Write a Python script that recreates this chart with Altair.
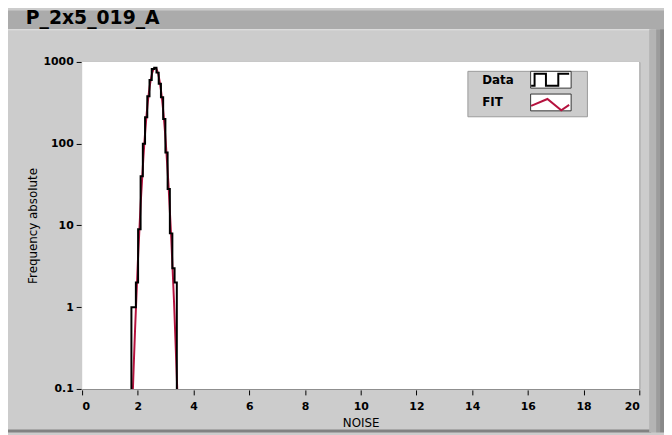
import altair as alt
import pandas as pd

# ---- data ----
# histogram (step) : left bin edges and counts (0 = empty bin)
edge_x = [1.70, 1.77, 1.85, 1.93, 2.01, 2.10, 2.18, 2.26, 2.34, 2.42, 2.50, 2.59,
          2.67, 2.75, 2.83, 2.91, 2.99, 3.07, 3.15, 3.24, 3.32, 3.40, 3.48]
counts = [0, 1, 1, 2, 9, 40, 100, 210, 380, 600, 820, 850,
          740, 540, 370, 200, 78, 28, 8, 3, 2, 0, 0]

# fitted curve
fit_x = [1.75, 1.80, 1.85, 1.90, 2.00, 2.10, 2.20, 2.30, 2.40, 2.50, 2.55, 2.60,
         2.65, 2.70, 2.80, 2.90, 3.00, 3.10, 3.20, 3.30, 3.40, 3.45, 3.50]
fit_y = [0.017, 0.058, 0.18, 0.52, 3.5, 18, 68, 197, 427, 692, 792, 845,
         839, 776, 535, 277, 108, 32, 7.0, 1.16, 0.14, 0.045, 0.013]

series = ["Data", "FIT"]
series_colors = ["#000000", "#B5123E"]
x_ticks = [0, 2, 4, 6, 8, 10, 12, 14, 16, 18, 20]
y_ticks = [0.1, 1, 10, 100, 1000]

hist_df = pd.DataFrame({"noise": edge_x, "count": counts})
fit_df = pd.DataFrame({"noise": fit_x, "freq": fit_y})
box_df = pd.DataFrame({"entry": series})
leg_df = pd.DataFrame({"series": series})
one = pd.DataFrame({"k": [0]})

FONT = "DejaVu Sans"
W, H = 564, 331

x_scale = alt.Scale(domain=[0, 20], nice=False, zero=False)
y_scale = alt.Scale(type="log", domain=[0.1, 1000], nice=False)

x_axis = alt.Axis(values=x_ticks, title="NOISE", format="d", labelPadding=6,
                  titlePadding=6, offset=1)
y_axis = alt.Axis(values=y_ticks, title="Frequency absolute", format="~g",
                  labelPadding=3, titlePadding=4, offset=1)

# decorative frame
plot_bg = alt.Chart(one).mark_rect(color="#FFFFFF").encode(
    x=alt.value(0), x2=alt.value(W), y=alt.value(0), y2=alt.value(H))
band = alt.Chart(one).mark_rect(color="#ABABAB").encode(
    x=alt.value(-75), x2=alt.value(589), y=alt.value(-52), y2=alt.value(-33))
band_line = alt.Chart(one).mark_rect(color="#E4E4E4").encode(
    x=alt.value(-75), x2=alt.value(576), y=alt.value(-33), y2=alt.value(-32))
bottom_line = alt.Chart(one).mark_rect(color="#828282").encode(
    x=alt.value(-75), x2=alt.value(576), y=alt.value(372), y2=alt.value(375))
edge1 = alt.Chart(one).mark_rect(color="#B4B4B4").encode(
    x=alt.value(574), x2=alt.value(581), y=alt.value(-33), y2=alt.value(375))
edge2 = alt.Chart(one).mark_rect(color="#9C9C9C").encode(
    x=alt.value(581), x2=alt.value(585), y=alt.value(-33), y2=alt.value(375))
edge3 = alt.Chart(one).mark_rect(color="#888888").encode(
    x=alt.value(585), x2=alt.value(589), y=alt.value(-33), y2=alt.value(375))

fit_line = alt.Chart(fit_df).mark_line(
    color=series_colors[1], strokeWidth=2, clip=True, interpolate="monotone"
).encode(
    x=alt.X("noise:Q", scale=x_scale, axis=x_axis),
    y=alt.Y("freq:Q", scale=y_scale, axis=y_axis),
)

data_line = alt.Chart(hist_df).transform_calculate(
    shown="max(datum.count, 0.01)"
).mark_line(
    color=series_colors[0], strokeWidth=2, clip=True, interpolate="step-after"
).encode(
    x=alt.X("noise:Q", scale=x_scale, axis=x_axis),
    y=alt.Y("shown:Q", scale=y_scale, axis=y_axis),
)

# ---- legend (labels left, icons in white boxes on the right; unit = 5 px) ----
path_box = "M11,-1.7L19.2,-1.7L19.2,1.7L11,1.7ZM21.3,0"
EXT = "M11,-1.6M19.2,1.6M21.3,0"
path_data = EXT + "M11.1,1.2L11.8,1.2L11.8,-1.2L14.1,-1.2L14.1,1.2L16.6,1.2L16.6,-1.2L18.8,-1.2"
path_fit = EXT + "M11.1,0.3L14.4,-1.1L17.2,1.2L18.8,0.1"

LEG_X, LEG_Y = 390, 9
common = dict(
    title=None, orient="none", legendX=LEG_X, legendY=LEG_Y, padding=3,
    labelFont=FONT, labelFontWeight="bold", labelFontSize=12, labelColor="#000000",
    symbolSize=100, rowPadding=1, symbolOpacity=1, labelOffset=0,
)

box_legend = alt.Legend(
    fillColor="#CCCCCC", strokeColor="#9A9A9A", symbolType=path_box,
    symbolStrokeColor="#333333", symbolStrokeWidth=1, **common,
)
wave_legend = alt.Legend(
    labelExpr="''", symbolStrokeWidth=2, symbolFillColor="transparent", **common,
)

box_pts = alt.Chart(box_df).mark_point(
    opacity=0, filled=True, stroke="#333333", strokeWidth=1
).encode(
    fill=alt.Fill("entry:N", scale=alt.Scale(range=["#FFFFFF", "#FFFFFF"]),
                  legend=box_legend),
)

wave_pts = alt.Chart(leg_df).mark_point(opacity=0, filled=False, strokeWidth=2).encode(
    stroke=alt.Stroke("series:N", scale=alt.Scale(range=series_colors),
                      legend=wave_legend),
    shape=alt.Shape("series:N", scale=alt.Scale(range=[path_data, path_fit]),
                    legend=wave_legend),
)

chart = alt.layer(
    plot_bg, band, band_line, bottom_line, edge1, edge2, edge3, fit_line, data_line,
    box_pts, wave_pts
).properties(
    width=W, height=H,
    title=alt.TitleParams(
        "P_2x5_019_A", anchor="start", frame="group", dx=-57, offset=-33,
        font=FONT, fontSize=19, fontWeight="bold", color="#000000",
        baseline="alphabetic",
    ),
    background="#CCCCCC",
    padding={"left": 75, "top": 52, "right": 25, "bottom": 44},
    autosize=alt.AutoSizeParams(type="none"),
).configure_view(
    fill="#FFFFFF", stroke="#8A8A8A", strokeWidth=1
).configure_axis(
    labelFont=FONT, labelFontWeight="bold", labelFontSize=11, labelColor="#000000",
    titleFont=FONT, titleFontWeight="normal", titleFontSize=12, titleColor="#000000",
    tickColor="#000000", tickSize=5, tickWidth=1, domain=False, grid=False,
)

chart.save("out.html", embed_options={"renderer": "svg", "actions": False})
